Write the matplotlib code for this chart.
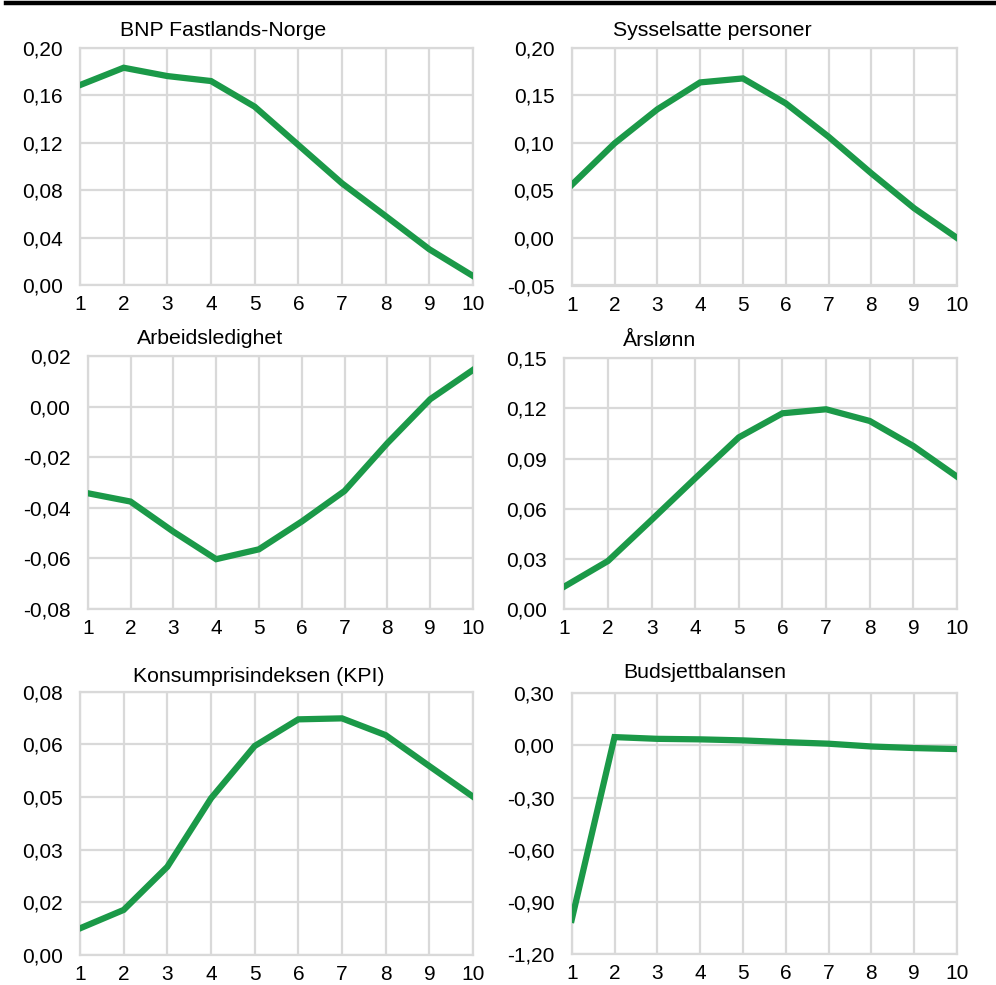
import matplotlib
matplotlib.use("Agg")
import matplotlib.pyplot as plt
from matplotlib.ticker import FuncFormatter, FixedLocator
from matplotlib.lines import Line2D
import numpy as np

plt.rcParams['font.family'] = ['Liberation Sans', 'DejaVu Sans']

periods = [1, 2, 3, 4, 5, 6, 7, 8, 9, 10]

bnp = [0.1685, 0.1831, 0.1761, 0.1719, 0.1503, 0.118, 0.0857, 0.0581, 0.0301, 0.0076]
sysselsatte = [0.0557, 0.0994, 0.1352, 0.1635, 0.1677, 0.1415, 0.1064, 0.0679, 0.0312, 0.0]
arbeidsledighet = [-0.0343, -0.0376, -0.0495, -0.0604, -0.0565, -0.0455, -0.0334, -0.0145, 0.0029, 0.0145]
arslonn = [0.0134, 0.0287, 0.0533, 0.0782, 0.1027, 0.1171, 0.1195, 0.1125, 0.0975, 0.0792]
kpi = [0.0081, 0.0137, 0.0268, 0.0476, 0.0635, 0.0716, 0.0719, 0.0668, 0.0574, 0.0481]
budsjett = [-1.003, 0.048, 0.038, 0.035, 0.029, 0.019, 0.010, -0.006, -0.015, -0.021]

titles = ["BNP Fastlands-Norge", "Sysselsatte personer", "Arbeidsledighet",
          "Årslønn", "Konsumprisindeksen (KPI)", "Budsjettbalansen"]
series = [bnp, sysselsatte, arbeidsledighet, arslonn, kpi, budsjett]
yticks = [
    [0.00, 0.04, 0.08, 0.12, 0.16, 0.20],
    [-0.05, 0.00, 0.05, 0.10, 0.15, 0.20],
    [-0.08, -0.06, -0.04, -0.02, 0.00, 0.02],
    [0.00, 0.03, 0.06, 0.09, 0.12, 0.15],
    [0.0, 0.016, 0.032, 0.048, 0.064, 0.08],
    [-1.20, -0.90, -0.60, -0.30, 0.00, 0.30],
]

W, H = 996, 985
# axes boxes in pixels: left, right, top, bottom
boxes = [
    (80, 473, 47.7, 285),
    (571.7, 957, 47.7, 285.5),
    (87.7, 473, 356, 608.7),
    (564.3, 957, 358.3, 609),
    (80, 473, 691.7, 955),
    (571.7, 957, 693.3, 954),
]
# title centres in pixels
title_pos = [(223, 30), (712, 30), (210, 338), (660, 341), (259, 676), (705, 673)]

green = '#1b9948'
gridc = '#d9d9d9'

def fmt(v, pos):
    v = round(v, 4)
    if abs(v) < 1e-9:
        v = 0.0
    s = f"{v:.2f}".replace('.', ',')
    return s

fig = plt.figure(figsize=(W / 100, H / 100), dpi=100)

for i in range(6):
    l, r, t, b = boxes[i]
    ax = fig.add_axes([l / W, 1 - b / H, (r - l) / W, (b - t) / H])
    ax.plot(periods, series[i], color=green, lw=4.5, solid_joinstyle='miter', zorder=3)
    ax.set_xlim(1, 10)
    ax.set_ylim(yticks[i][0], yticks[i][-1])
    ax.xaxis.set_major_locator(FixedLocator(periods))
    ax.yaxis.set_major_locator(FixedLocator(yticks[i]))
    ax.yaxis.set_major_formatter(FuncFormatter(fmt))
    ax.grid(True, color=gridc, lw=1.6)
    ax.set_axisbelow(True)
    for sp in ax.spines.values():
        sp.set_color(gridc)
        sp.set_linewidth(1.6)
    ax.tick_params(length=0, labelsize=15, colors='#000000')
    ax.tick_params(axis='y', pad=12.5)
    ax.tick_params(axis='x', pad=7.5)
    tx, ty = title_pos[i]
    fig.text(tx / W, 1 - ty / H, titles[i], ha='center', va='center', fontsize=15.3)

fig.add_artist(Line2D([6 / W, 1.0], [1 - 3 / H, 1 - 3 / H], color='black', lw=3.2,
                      transform=fig.transFigure))

fig.savefig('out.png', dpi=100)
